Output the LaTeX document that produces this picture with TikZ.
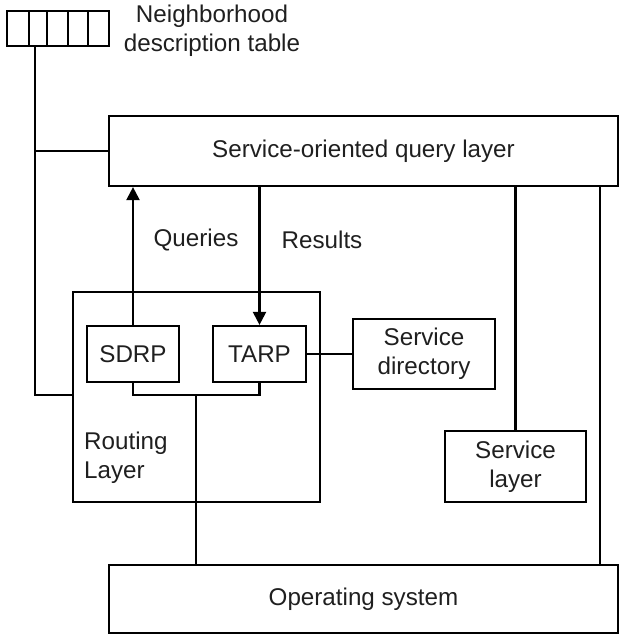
\documentclass[tikz,border=0pt]{standalone}
\usepackage{fontspec}
\setmainfont{Liberation Sans}
\usetikzlibrary{arrows.meta,calc}
\begin{document}
\begin{tikzpicture}[x=1pt,y=-1pt,
  every node/.style={font=\fontsize{24.2}{29}\selectfont, text=black!88},
  box/.style={draw, line width=2.2pt, inner sep=0pt, align=center},
  conn/.style={line width=2.2pt},
  arr/.style={conn, -{Triangle[length=13pt,width=13pt]}},
  lbl/.style={inner sep=0pt}]
\useasboundingbox (0,0) rectangle (619,635);
% table
\node[box, minimum width=102pt, minimum height=35pt] (tbl) at (58,28.5) {};
\foreach \xx in {29,47,68,88} \draw[conn] (\xx,11) -- (\xx,46);
\node[lbl, align=center] (tbltxt) at (212,31) {Neighborhood\\description table};
% boxes
\node[box, minimum width=509pt, minimum height=70pt] (query) at (363.5,151) {Service-oriented query layer};
\node[box, minimum width=247pt, minimum height=210pt] (rl) at (196.5,397) {};
\node[lbl, align=left, anchor=west] (rltxt) at (84,458) {Routing\\Layer};
\node[box, minimum width=92pt, minimum height=56pt] (sdrp) at (133,354) {SDRP};
\node[box, minimum width=93pt, minimum height=56pt] (tarp) at (259.5,354) {TARP};
\node[box, minimum width=142pt, minimum height=70pt] (dir) at (424,354) {Service\\directory};
\node[box, minimum width=141pt, minimum height=71pt] (sl) at (515.5,466.5) {Service\\layer};
\node[box, minimum width=509pt, minimum height=68pt] (os) at (363.5,599) {Operating system};
% labels
\node (q) at (196,240) {Queries};
\node (r) at (322,240) {Results};
% coordinates
\coordinate (j1) at (35,151);
\coordinate (bus) at (196,395);
\coordinate (rx) at (600,0);
% connectors
\draw[conn] (tbl.south -| j1) -- (j1 |- bus) -- (rl.west |- bus);
\draw[conn] (j1) -- (query.west |- j1);
\draw[arr] (sdrp.north) -- (sdrp.north |- query.south);
\draw[arr] (tarp.north |- query.south) -- (tarp.north);
\draw[conn] (sdrp.south) |- (bus) -| (tarp.south);
\draw[conn] (bus) -- (bus |- os.north);
\draw[conn] (tarp.east) -- (dir.west);
\draw[conn] (query.south -| sl.north) -- (sl.north);
\draw[conn] (query.south -| rx) -- (os.north -| rx);
\end{tikzpicture}
\end{document}
